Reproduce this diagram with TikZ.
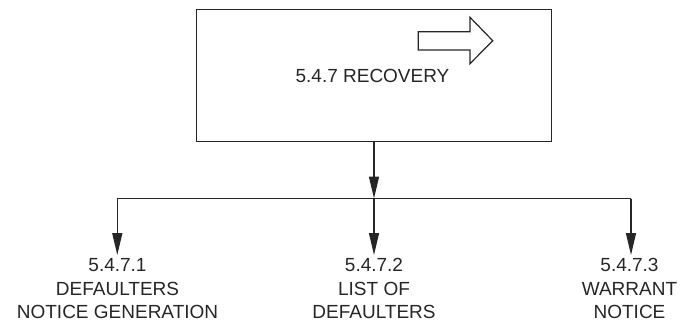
\documentclass[tikz,border=0pt]{standalone}
\usepackage{fontspec}
\setmainfont{Liberation Sans}
\usetikzlibrary{arrows.meta}
\begin{document}
\begin{tikzpicture}[x=1pt,y=-1pt,
  line/.style={line width=1.4pt,draw=black!85},
  arr/.style={line,-{Triangle[length=22pt,width=10pt]}},
  lbl/.style={font=\fontsize{19}{23.5}\selectfont,align=center,inner sep=0pt,anchor=north,text=black!85}]
\useasboundingbox (0,0) rectangle (680,327);
\node[line,draw,minimum width=355pt,minimum height=132pt,inner sep=0pt] (top) at (374,75.5) {};
\node[font=\fontsize{19}{23}\selectfont,text=black!85,anchor=base] (tt) at (372.5,82) {5.4.7 RECOVERY};
\draw[line,line width=1.2pt,line join=miter] (418.3,31.7) coordinate (ar) -- (470,31.7) -- (470,17.3) -- (492.7,40.7) -- (470,63.7) -- (470,50) -- (418.3,50) -- cycle;
\coordinate (bus) at (374,198.5);
\coordinate (bl) at (117.3,198.5);
\coordinate (br) at (631,198.5);
\node[lbl] (c1) at (117.5,258.5) {5.4.7.1\\DEFAULTERS\\NOTICE GENERATION};
\node[lbl] (c2) at (374,258.5) {5.4.7.2\\LIST OF\\DEFAULTERS};
\node[lbl] (c3) at (629.5,258.5) {5.4.7.3\\WARRANT\\NOTICE};
\draw[arr] (top.south) -- (bus);
\draw[line] (bl) -- (br);
\draw[arr] (bl) -- (117.3,255);
\draw[arr] (bus) -- (374,255);
\draw[arr] (br) -- (631,255);
\end{tikzpicture}
\end{document}
